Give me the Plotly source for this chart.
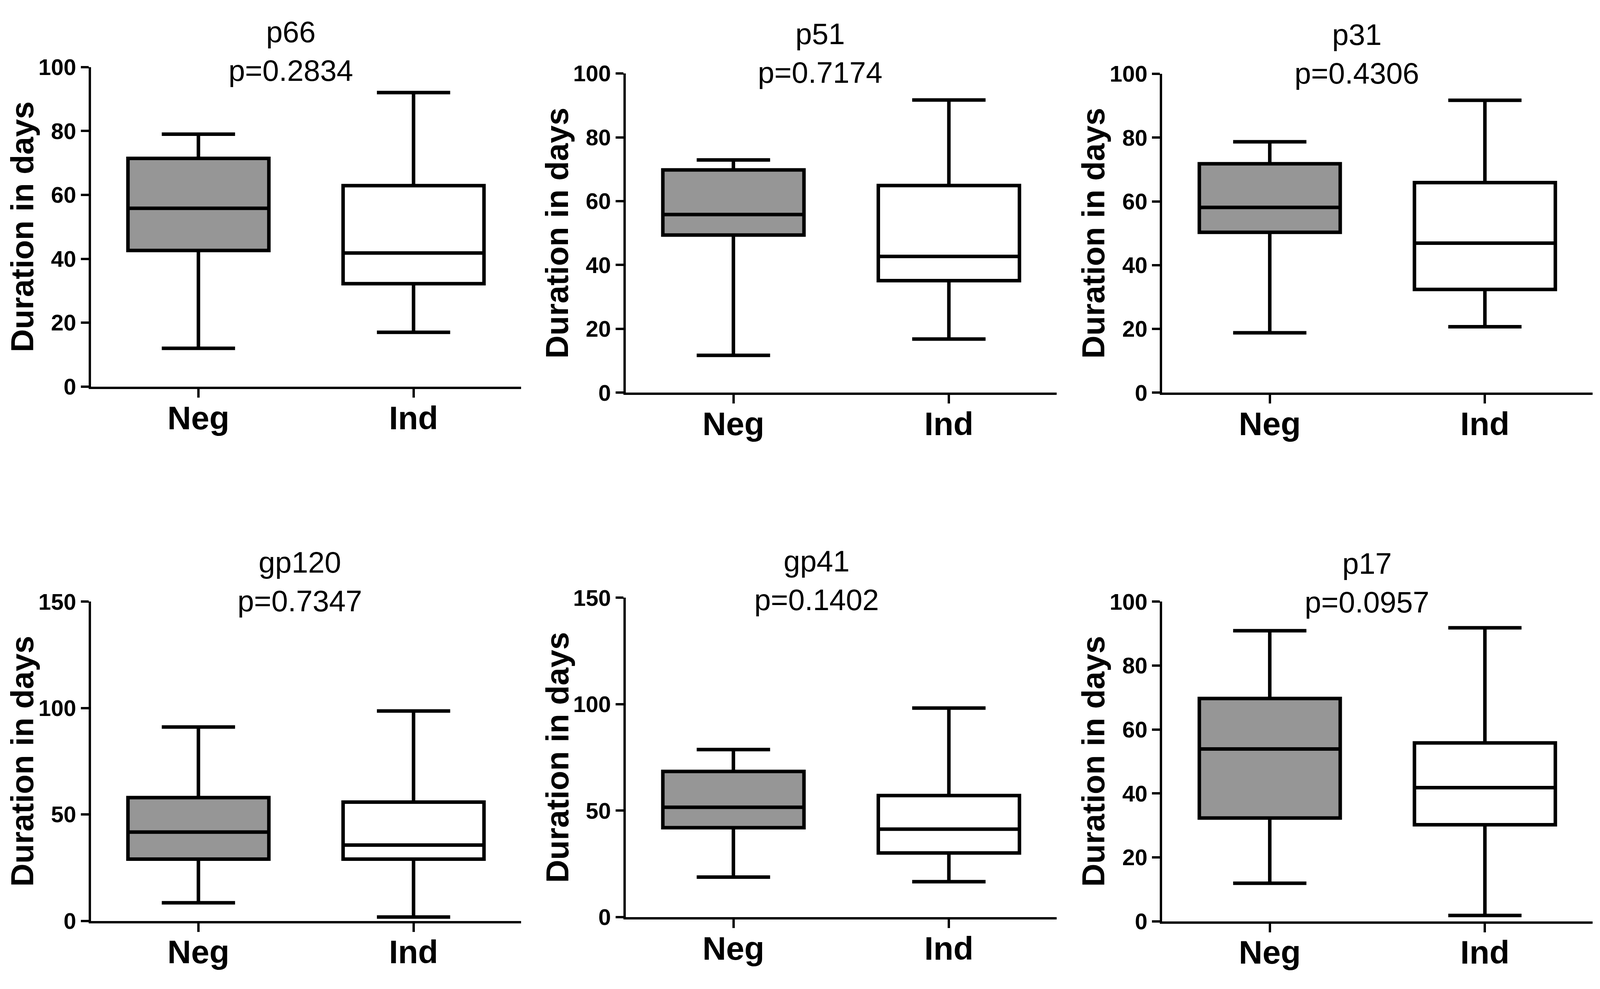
import plotly.graph_objects as go

# reference frame (pixels) and the actual browser viewport
REF_W, REF_H = 4667, 2532
VIEW_W, VIEW_H = 4096, 2532
MARGIN = 8  # default body margin of the page
W, H = VIEW_W - 2 * MARGIN, VIEW_H - 2 * MARGIN

panels = ["p66", "p51", "p31", "gp120", "gp41", "p17"]
pvals = ["p=0.2834", "p=0.7174", "p=0.4306", "p=0.7347", "p=0.1402", "p=0.0957"]
groups = ["Neg", "Ind"]

# five-number summaries (whisker low, Q1, median, Q3, whisker high)
neg_low = [12, 11.7, 18.8, 8.5, 18.8, 11.9]
neg_q1 = [42.6, 49.4, 50.3, 29, 42, 32.3]
neg_med = [55.8, 55.8, 58.1, 41.7, 51.6, 53.9]
neg_q3 = [71.4, 69.8, 71.8, 57.9, 68.4, 69.7]
neg_high = [79, 72.9, 78.7, 91.1, 78.7, 90.9]

ind_low = [17, 16.8, 20.7, 1.8, 16.6, 1.8]
ind_q1 = [32.2, 35.1, 32.4, 29, 30.1, 30.2]
ind_med = [41.8, 42.7, 46.9, 35.6, 41.3, 41.8]
ind_q3 = [62.9, 64.9, 65.9, 55.8, 57.1, 55.8]
ind_high = [92, 91.7, 91.7, 98.6, 98.2, 91.8]

y_max = [100, 100, 100, 150, 150, 100]
y_dtick = [20, 20, 20, 50, 50, 20]

# plot-area boxes in reference pixels: x0, x1, ytop, ybottom
boxes = [
    (265, 1520, 142, 982),
    (1825, 3082, 159, 998),
    (3390, 4645, 160, 998),
    (265, 1520, 1547, 2386),
    (1825, 3082, 1537, 2376),
    (3390, 4645, 1547, 2387),
]
title_pos = [(848, 100), (2392, 106), (3958, 108), (875, 1494), (2382, 1491), (3987, 1497)]
ytitle_x = [65, 1625, 3188, 65, 1625, 3188]


def px(xr):
    return (xr / REF_W * VIEW_W - MARGIN) / W


def py(yr):
    return 1 - (yr / REF_H * VIEW_H - MARGIN) / H


FONT = "Liberation Sans Narrow, Arial Narrow, Liberation Sans, Arial, sans-serif"
GREY = "#969696"

fig = go.Figure()
layout = dict(
    width=W, height=H, margin=dict(l=0, r=0, t=0, b=0),
    paper_bgcolor="white", plot_bgcolor="white",
    showlegend=False, boxmode="overlay", annotations=[],
    font=dict(family=FONT, color="black"),
)

for i in range(6):
    sfx = "" if i == 0 else str(i + 1)
    xa, ya = "x" + sfx, "y" + sfx
    stats = [
        (neg_low[i], neg_q1[i], neg_med[i], neg_q3[i], neg_high[i], GREY),
        (ind_low[i], ind_q1[i], ind_med[i], ind_q3[i], ind_high[i], "white"),
    ]
    for g, (lo, q1, md, q3, hi, fc) in zip(groups, stats):
        fig.add_trace(go.Box(
            x=[g], q1=[q1], median=[md], q3=[q3], lowerfence=[lo], upperfence=[hi],
            width=0.655, whiskerwidth=0.52, fillcolor=fc,
            line=dict(color="black", width=9), boxpoints=False,
            xaxis=xa, yaxis=ya, hoverinfo="skip", showlegend=False,
        ))
    x0, x1, yt, yb = boxes[i]
    layout["xaxis" + sfx] = dict(
        domain=[px(x0), px(x1)], anchor=ya, type="category",
        categoryorder="array", categoryarray=groups, range=[-0.5, 1.5],
        showline=True, linewidth=6, linecolor="black", showgrid=False, zeroline=False,
        ticks="outside", ticklen=22, tickwidth=6, tickcolor="black",
        ticklabelstandoff=-20,
        tickfont=dict(family=FONT, size=84, color="black", weight="bold"),
        fixedrange=True,
    )
    layout["yaxis" + sfx] = dict(
        domain=[py(yb), py(yt)], anchor=xa, range=[0, y_max[i]],
        tick0=0, dtick=y_dtick[i],
        showline=True, linewidth=6, linecolor="black", showgrid=False, zeroline=False,
        ticks="outside", ticklen=20, tickwidth=6, tickcolor="black",
        tickfont=dict(family=FONT, size=58, color="black", weight="bold"),
        fixedrange=True,
    )
    tx, ty = title_pos[i]
    layout["annotations"].append(dict(
        xref="paper", yref="paper", x=px(tx), y=py(ty),
        xanchor="center", yanchor="middle", showarrow=False,
        text=panels[i] + "<br>" + pvals[i],
        font=dict(family=FONT, size=76, color="black"),
    ))
    layout["annotations"].append(dict(
        xref="paper", yref="paper", x=px(ytitle_x[i]), y=py((yt + yb) / 2),
        xanchor="center", yanchor="middle", showarrow=False, textangle=-90,
        text="Duration in days",
        font=dict(family=FONT, size=82, color="black", weight="bold"),
    ))

fig.update_layout(**layout)
fig.write_html("out.html")
